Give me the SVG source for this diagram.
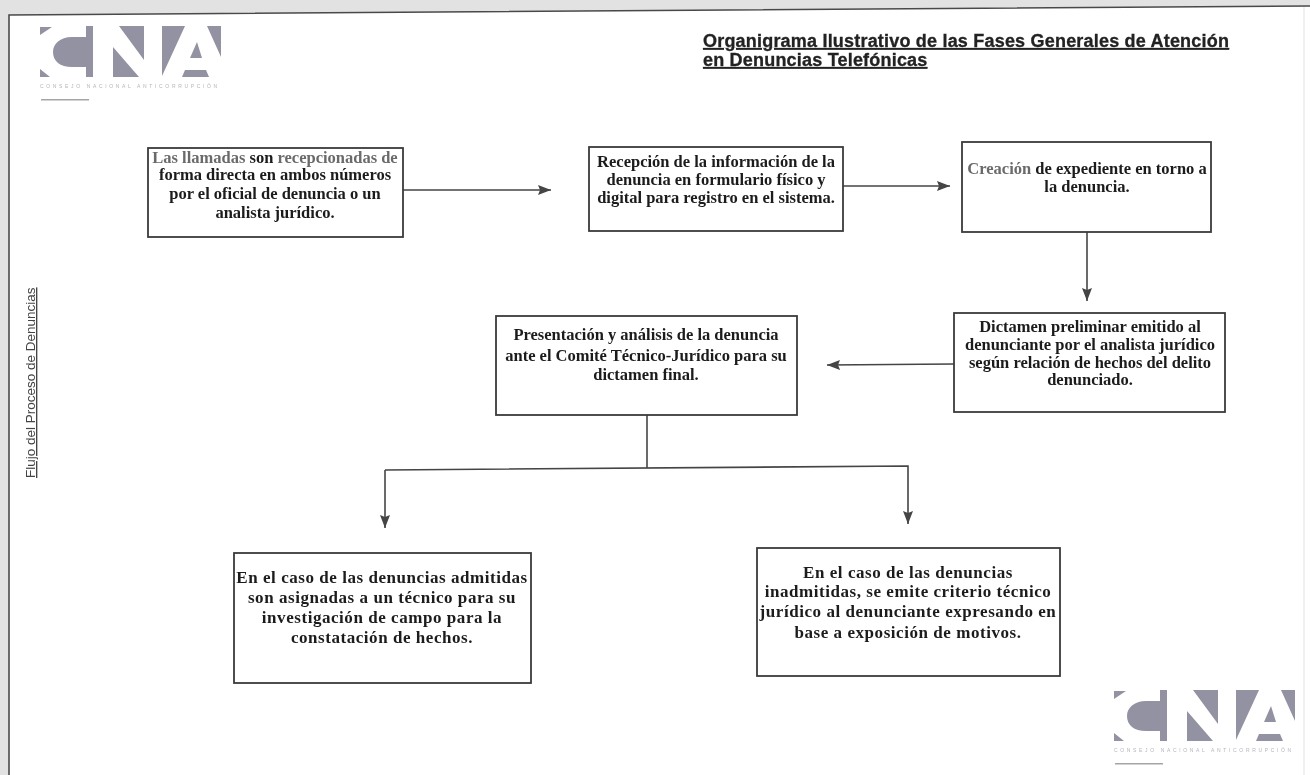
<svg xmlns="http://www.w3.org/2000/svg" width="1310" height="775" viewBox="0 0 1310 775">
<style>
.box{fill:#fff;stroke:#3a3a3a;stroke-width:1.8}
.t{font-family:"Liberation Serif","Times New Roman",serif;font-size:16.5px;font-weight:bold;fill:#1a1a1a;text-anchor:middle}
.w{font-size:17px;letter-spacing:.55px}
.g{fill:#6a6a6a}
.title{font-family:"Liberation Sans",Arial,sans-serif;font-size:18px;font-weight:bold;fill:#222;text-decoration:underline;letter-spacing:.2px;stroke:#222;stroke-width:.3}
.side{font-family:"Liberation Sans",Arial,sans-serif;font-size:13.5px;fill:#444;text-decoration:underline}
.c{fill:none;stroke:#444;stroke-width:1.6}
.lg{fill:#9292a2}
.lt{font-family:"Liberation Sans",Arial,sans-serif;font-size:5px;fill:#b5b5bd;letter-spacing:2.65px}
</style>
<defs>
<marker id="ah" markerUnits="userSpaceOnUse" markerWidth="14" markerHeight="12" refX="13" refY="5" orient="auto"><path d="M0 0L13 5L0 10L2 5Z" fill="#444"/></marker>
<filter id="soft" x="0" y="0" width="100%" height="100%"><feGaussianBlur stdDeviation="0.45"/></filter>
<g id="logo">
<path class="lg" d="M40 27H52L40 35ZM40 69L50 77H40ZM86 37H72C60 37 53 44 53 52C53 61 60 67 72 67H86ZM86 26H93V77H86ZM119 26H144V60ZM113 47L139 77H113ZM162 26H185L162 76ZM207 26H221V57ZM197 42L190 58H202ZM185 70H206L209 77H182Z"/>
<text class="lt" x="40" y="88">CONSEJO NACIONAL ANTICORRUPCIÓN</text>
<rect x="41" y="99" width="48" height="1.5" fill="#a5a5a5"/>
</g>
</defs>
<rect width="1310" height="775" fill="#fff"/>
<g filter="url(#soft)">
<g id="frame">
<path d="M0 0H1310V6L9 15V775H0Z" fill="#e2e2e2"/>
<path d="M9 775V15L1310 6" fill="none" stroke="#4a4a4a" stroke-width="1.6"/>
<path d="M1304 7V775" fill="none" stroke="#ececec" stroke-width="1.5"/>
</g>
<g id="logo-top"><use href="#logo"/></g>
<g id="logo-bottom"><use href="#logo" transform="translate(1074 664)"/></g>
<g id="title"><text class="title" x="703" y="47">Organigrama Ilustrativo de las Fases Generales de Atención</text><text class="title" x="703" y="66">en Denuncias Telefónicas</text></g>
<g id="side-label"><text class="side" transform="translate(35 478) rotate(-90)">Flujo del Proceso de Denuncias</text></g>
<g id="connectors">
<path class="c" d="M403 190H551" marker-end="url(#ah)"/>
<path class="c" d="M843 186H950" marker-end="url(#ah)"/>
<path class="c" d="M1087 232V301" marker-end="url(#ah)"/>
<path class="c" d="M954 364L827 365" marker-end="url(#ah)"/>
<path class="c" d="M647 415V468"/>
<path class="c" d="M385 470L908 466V524" marker-end="url(#ah)"/>
<path class="c" d="M385 470V528" marker-end="url(#ah)"/>
</g>
<g id="n1"><rect class="box" x="148" y="148" width="255" height="89"/>
<text class="t" x="275" y="163"><tspan class="g">Las llamadas</tspan> son <tspan class="g">recepcionadas de</tspan></text>
<text class="t" x="275" y="180">forma directa en ambos números</text>
<text class="t" x="275" y="199">por el oficial de denuncia o un</text>
<text class="t" x="275" y="218">analista jurídico.</text></g>
<g id="n2"><rect class="box" x="589" y="147" width="254" height="84"/>
<text class="t" x="716" y="167">Recepción de la información de la</text>
<text class="t" x="716" y="185">denuncia en formulario físico y</text>
<text class="t" x="716" y="203">digital para registro en el sistema.</text></g>
<g id="n3"><rect class="box" x="962" y="142" width="249" height="90"/>
<text class="t" x="1087" y="174"><tspan class="g">Creación</tspan> de expediente en torno a</text>
<text class="t" x="1087" y="192">la denuncia.</text></g>
<g id="n4"><rect class="box" x="954" y="313" width="271" height="99"/>
<text class="t" x="1090" y="332">Dictamen preliminar emitido al</text>
<text class="t" x="1090" y="350">denunciante por el analista jurídico</text>
<text class="t" x="1090" y="368">según relación de hechos del delito</text>
<text class="t" x="1090" y="385">denunciado.</text></g>
<g id="n5"><rect class="box" x="496" y="316" width="301" height="99"/>
<text class="t" x="646" y="340">Presentación y análisis de la denuncia</text>
<text class="t" x="646" y="361">ante el Comité Técnico-Jurídico para su</text>
<text class="t" x="646" y="380">dictamen final.</text></g>
<g id="n6"><rect class="box" x="234" y="553" width="297" height="130"/>
<text class="t w" x="382" y="583">En el caso de las denuncias admitidas</text>
<text class="t w" x="382" y="603">son asignadas a un técnico para su</text>
<text class="t w" x="382" y="623">investigación de campo para la</text>
<text class="t w" x="382" y="643">constatación de hechos.</text></g>
<g id="n7"><rect class="box" x="757" y="548" width="303" height="128"/>
<text class="t w" x="908" y="578">En el caso de las denuncias</text>
<text class="t w" x="908" y="597">inadmitidas, se emite criterio técnico</text>
<text class="t w" x="908" y="617">jurídico al denunciante expresando en</text>
<text class="t w" x="908" y="638">base a exposición de motivos.</text></g>
</g>
</svg>
